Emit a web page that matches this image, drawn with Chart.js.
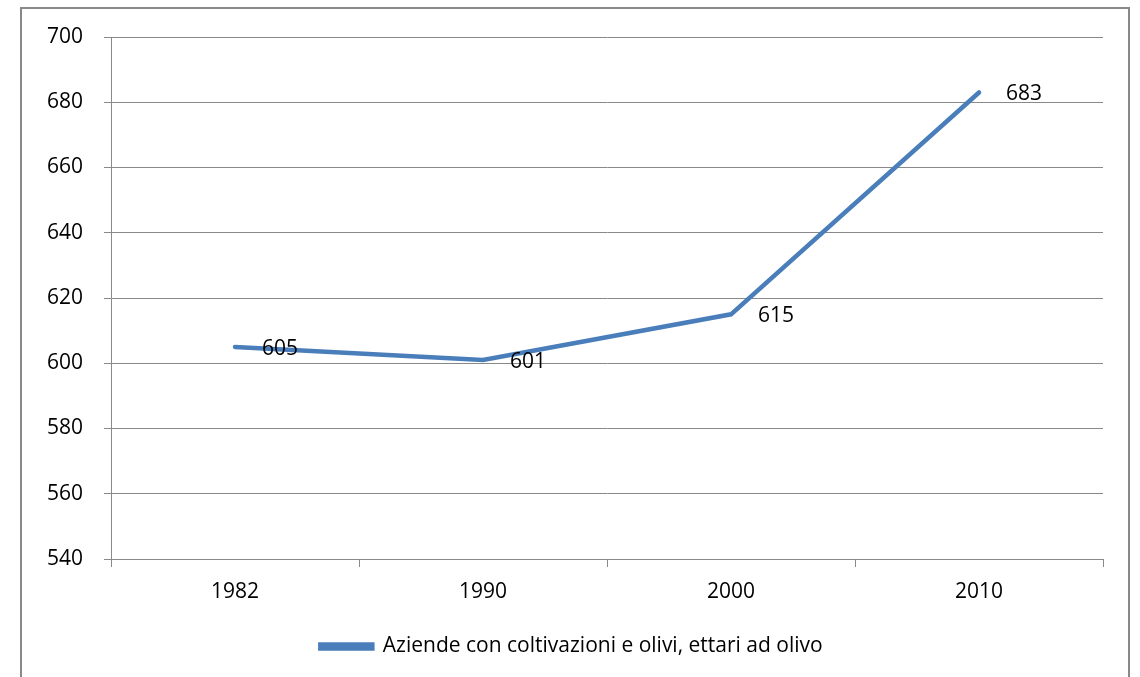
<!DOCTYPE html>
<html lang="it">
  <head>
    <meta charset="UTF-8" />
    <title>Aziende con coltivazioni e olivi</title>
    <script src="https://cdn.jsdelivr.net/npm/chart.js"></script>
    <style>
      html, body { margin: 0; padding: 0; background: #fff; }
      #wrap { width: 1140px; height: 677px; }
    </style>
  </head>
  <body>
    <div id="wrap"><canvas id="myChart" width="1140" height="677"></canvas></div>

    <script>
      // dati
      const anni = ["1982", "1990", "2000", "2010"];
      const ettari = [605, 601, 615, 683];
      const etichette = ["605", "601", "615", "683"];
      const serieNome = "Aziende con coltivazioni e olivi, ettari ad olivo";

      const grigio = "#898989";
      const blu = "#4a7ebb";
      const font = { family: "'Open Sans', sans-serif", size: 21 };

      // cornice esterna
      const cornice = {
        id: "cornice",
        afterDraw(chart) {
          const ctx = chart.ctx;
          ctx.save();
          ctx.strokeStyle = grigio;
          ctx.lineWidth = 2;
          ctx.strokeRect(21, 8, 1108, 700);
          ctx.restore();
        },
      };

      // etichette dei valori a destra dei punti
      const etichetteValori = {
        id: "etichetteValori",
        afterDatasetsDraw(chart) {
          const ctx = chart.ctx;
          const meta = chart.getDatasetMeta(0);
          ctx.save();
          ctx.font = font.size + "px " + font.family;
          ctx.fillStyle = "#000";
          ctx.textAlign = "left";
          ctx.textBaseline = "middle";
          meta.data.forEach((pt, i) => {
            ctx.fillText(etichette[i], pt.x + 27, pt.y + 2);
          });
          ctx.restore();
        },
      };

      new Chart(document.getElementById("myChart"), {
        type: "line",
        data: {
          labels: anni,
          datasets: [
            {
              label: serieNome,
              data: ettari,
              borderColor: blu,
              backgroundColor: blu,
              borderWidth: 4.5,
              pointRadius: 0,
              tension: 0,
              borderCapStyle: "round",
            },
          ],
        },
        options: {
          responsive: false,
          animation: false,
          layout: { padding: { left: 40, right: 37, top: 37, bottom: 10 } },
          plugins: {
            tooltip: { enabled: false },
            legend: {
              position: "bottom",
              labels: {
                font: font,
                color: "#000",
                boxWidth: 52,
                boxHeight: 4,
                padding: 10,
              },
            },
          },
          scales: {
            x: {
              offset: true,
              grid: {
                offset: true,
                drawOnChartArea: false,
                color: grigio,
                tickLength: 8,
              },
              border: { color: grigio },
              ticks: { font: font, color: "#000", padding: 12, maxRotation: 0 },
              afterFit(scale) { scale.height = 67; },
            },
            y: {
              min: 540,
              max: 700,
              grid: { color: grigio, tickLength: 7 },
              border: { color: grigio },
              ticks: { stepSize: 20, font: font, color: "#000", padding: 21 },
              afterFit(scale) { scale.width = 71; },
            },
          },
        },
        plugins: [cornice, etichetteValori],
      });
    </script>
  </body>
</html>
